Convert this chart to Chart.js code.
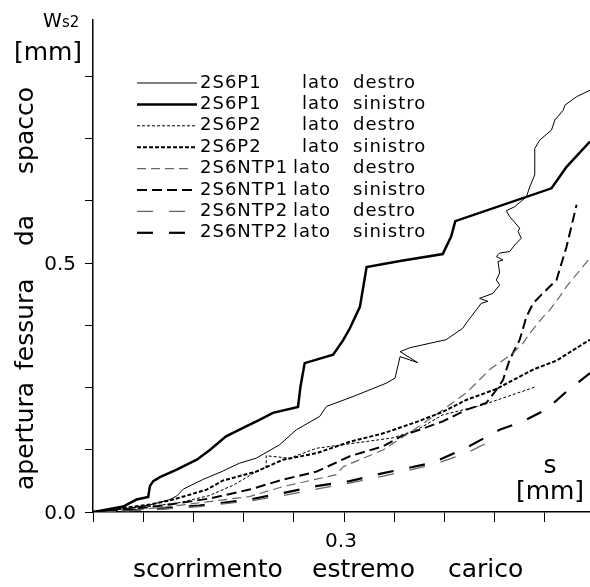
<!DOCTYPE html>
<html lang="it">
<head>
<meta charset="UTF-8">
<title>apertura fessura da spacco</title>
<script src="https://cdn.jsdelivr.net/npm/chart.js@4.4.1/dist/chart.umd.min.js"></script>
<style>
  html, body { margin: 0; padding: 0; background: #fff; }
  #chart { display: block; }
</style>
</head>
<body>
<canvas id="chart" width="590" height="587"></canvas>
<script>
// series names (legend)
var seriesNames = ['2S6P1', '2S6P1', '2S6P2', '2S6P2', '2S6NTP1', '2S6NTP1', '2S6NTP2', '2S6NTP2'];
var seriesSides = ['destro', 'sinistro', 'destro', 'sinistro', 'destro', 'sinistro', 'destro', 'sinistro'];

// s [mm] / ws2 [mm]
var p1Destro = [
  {x:0,y:0},{x:0.020,y:0.003},{x:0.044,y:0.008},{x:0.068,y:0.014},{x:0.092,y:0.025},
  {x:0.100,y:0.032},{x:0.108,y:0.046},{x:0.131,y:0.065},{x:0.155,y:0.082},{x:0.175,y:0.098},
  {x:0.195,y:0.108},{x:0.223,y:0.135},{x:0.243,y:0.165},{x:0.271,y:0.192},{x:0.279,y:0.212},
  {x:0.311,y:0.232},{x:0.351,y:0.259},{x:0.361,y:0.269},{x:0.367,y:0.312},{x:0.388,y:0.300},
  {x:0.367,y:0.322},{x:0.379,y:0.330},{x:0.422,y:0.346},{x:0.442,y:0.369},{x:0.446,y:0.379},
  {x:0.464,y:0.419},{x:0.472,y:0.423},{x:0.462,y:0.429},{x:0.478,y:0.439},{x:0.486,y:0.456},
  {x:0.482,y:0.466},{x:0.486,y:0.480},{x:0.484,y:0.503},{x:0.490,y:0.506},{x:0.482,y:0.513},
  {x:0.486,y:0.520},{x:0.498,y:0.523},{x:0.504,y:0.536},{x:0.512,y:0.550},{x:0.508,y:0.563},
  {x:0.510,y:0.570},{x:0.498,y:0.593},{x:0.494,y:0.605},{x:0.504,y:0.613},{x:0.518,y:0.633},
  {x:0.522,y:0.653},{x:0.528,y:0.677},{x:0.528,y:0.730},{x:0.534,y:0.747},{x:0.548,y:0.767},
  {x:0.552,y:0.787},{x:0.562,y:0.807},{x:0.564,y:0.817},{x:0.578,y:0.834},{x:0.594,y:0.847}
];
var p1Sinistro = [
  {x:0,y:0},{x:0.004,y:0.001},{x:0.020,y:0.006},{x:0.036,y:0.011},{x:0.052,y:0.025},
  {x:0.066,y:0.030},{x:0.068,y:0.052},{x:0.072,y:0.062},{x:0.080,y:0.070},{x:0.100,y:0.085},
  {x:0.124,y:0.105},{x:0.140,y:0.125},{x:0.159,y:0.152},{x:0.183,y:0.172},{x:0.199,y:0.185},
  {x:0.215,y:0.199},{x:0.245,y:0.211},{x:0.248,y:0.252},{x:0.253,y:0.299},{x:0.287,y:0.316},
  {x:0.299,y:0.345},{x:0.307,y:0.369},{x:0.319,y:0.412},{x:0.327,y:0.492},{x:0.367,y:0.504},
  {x:0.418,y:0.518},{x:0.428,y:0.553},{x:0.433,y:0.584},{x:0.548,y:0.650},{x:0.566,y:0.693},
  {x:0.594,y:0.744}
];
var p2Destro = [
  {x:0,y:0},{x:0.032,y:0.005},{x:0.068,y:0.011},{x:0.104,y:0.019},{x:0.139,y:0.033},
  {x:0.169,y:0.055},{x:0.195,y:0.081},{x:0.207,y:0.091},{x:0.207,y:0.113},{x:0.235,y:0.108},
  {x:0.267,y:0.128},{x:0.307,y:0.137},{x:0.359,y:0.149},{x:0.387,y:0.165},{x:0.418,y:0.195},
  {x:0.466,y:0.215},{x:0.530,y:0.252}
];
var p2Sinistro = [
  {x:0,y:0},{x:0.032,y:0.007},{x:0.068,y:0.015},{x:0.096,y:0.025},{x:0.136,y:0.045},
  {x:0.155,y:0.063},{x:0.195,y:0.081},{x:0.227,y:0.105},{x:0.267,y:0.118},{x:0.307,y:0.141},
  {x:0.347,y:0.158},{x:0.387,y:0.181},{x:0.418,y:0.201},{x:0.446,y:0.225},{x:0.482,y:0.247},
  {x:0.526,y:0.286},{x:0.554,y:0.304},{x:0.590,y:0.342},{x:0.594,y:0.346}
];
var ntp1Destro = [
  {x:0,y:0},{x:0.044,y:0.003},{x:0.092,y:0.011},{x:0.139,y:0.021},{x:0.187,y:0.031},
  {x:0.227,y:0.051},{x:0.291,y:0.075},{x:0.299,y:0.091},{x:0.347,y:0.125},{x:0.387,y:0.169},
  {x:0.418,y:0.205},{x:0.446,y:0.239},{x:0.458,y:0.259},{x:0.474,y:0.286},{x:0.502,y:0.319},
  {x:0.514,y:0.339},{x:0.522,y:0.359},{x:0.538,y:0.392},{x:0.546,y:0.406},{x:0.558,y:0.433},
  {x:0.566,y:0.453},{x:0.594,y:0.510}
];
var ntp1Sinistro = [
  {x:0,y:0},{x:0.044,y:0.005},{x:0.092,y:0.015},{x:0.139,y:0.027},{x:0.187,y:0.045},
  {x:0.227,y:0.065},{x:0.267,y:0.081},{x:0.307,y:0.112},{x:0.347,y:0.132},{x:0.367,y:0.151},
  {x:0.390,y:0.165},{x:0.418,y:0.182},{x:0.446,y:0.205},{x:0.470,y:0.219},{x:0.482,y:0.245},
  {x:0.490,y:0.265},{x:0.498,y:0.306},{x:0.510,y:0.346},{x:0.518,y:0.392},{x:0.526,y:0.419},
  {x:0.534,y:0.433},{x:0.554,y:0.466},{x:0.566,y:0.533},{x:0.578,y:0.617}
];
var ntp2Destro = [
  {x:0,y:0},{x:0.068,y:0.004},{x:0.127,y:0.011},{x:0.187,y:0.022},{x:0.227,y:0.033},
  {x:0.267,y:0.046},{x:0.307,y:0.058},{x:0.347,y:0.072},{x:0.406,y:0.095},{x:0.446,y:0.118},
  {x:0.470,y:0.138}
];
var ntp2Sinistro = [
  {x:0,y:0},{x:0.068,y:0.005},{x:0.127,y:0.013},{x:0.187,y:0.025},{x:0.227,y:0.038},
  {x:0.267,y:0.052},{x:0.307,y:0.062},{x:0.347,y:0.078},{x:0.367,y:0.085},{x:0.406,y:0.099},
  {x:0.446,y:0.129},{x:0.486,y:0.165},{x:0.514,y:0.182},{x:0.542,y:0.206},{x:0.566,y:0.242},
  {x:0.594,y:0.279}
];

var xTicks = [0, 0.06, 0.12, 0.18, 0.24, 0.3, 0.36, 0.42, 0.48, 0.54];
var yTicks = [0, 0.125, 0.25, 0.375, 0.5, 0.625, 0.75, 0.875];
var xTickLabels = [[0.3, '0.3']];
var yTickLabels = [[0, '0.0'], [0.5, '0.5']];

var FONT = '"DejaVu Sans", sans-serif';

function ds(data, width, dash, color) {
    return {
        data: data,
        borderColor: color || '#000',
        borderWidth: width,
        borderDash: dash,
        showLine: true,
        pointRadius: 0,
        tension: 0,
        fill: false
    };
}

var datasets = [
    ds(p1Destro, 1, []),
    ds(p1Sinistro, 2.5, []),
    ds(p2Destro, 1, [3, 2]),
    ds(p2Sinistro, 2, [4, 2]),
    ds(ntp1Destro, 1.2, [9, 5], '#666'),
    ds(ntp1Sinistro, 2, [10, 5]),
    ds(ntp2Destro, 1.3, [16, 16], '#666'),
    ds(ntp2Sinistro, 2.2, [16, 16])
];

// legend + axis texts
var decor = {
    id: 'decor',
    afterDraw: function (chart) {
        var c = chart.ctx;
        var xs = chart.scales.x, ys = chart.scales.y;
        c.save();
        c.fillStyle = '#000';
        c.textBaseline = 'alphabetic';

        // tick labels
        c.font = '20px ' + FONT;
        c.textAlign = 'right';
        yTickLabels.forEach(function (t) {
            c.fillText(t[1], 76, ys.getPixelForValue(t[0]) + 7);
        });
        c.textAlign = 'center';
        xTickLabels.forEach(function (t) {
            c.fillText(t[1], xs.getPixelForValue(t[0]) - 3, 547);
        });

        // x title
        c.font = '25px ' + FONT;
        c.textAlign = 'left';
        c.fillText('scorrimento', 133, 577);
        c.fillText('estremo', 312, 577);
        c.fillText('carico', 448, 577);
        c.textAlign = 'center';
        c.fillText('s', 550, 473);
        c.fillText('[mm]', 550, 499);

        // y title
        c.fillText('[mm]', 48, 60);
        c.font = '19px ' + FONT;
        c.textAlign = 'left';
        c.fillText('W', 43, 27);
        c.font = '15px ' + FONT;
        c.fillText('s2', 62, 27);

        c.save();
        c.font = '25px ' + FONT;
        c.translate(33, 0);
        c.rotate(-Math.PI / 2);
        c.textAlign = 'left';
        c.fillText('apertura', -490, 0);
        c.fillText('fessura', -370, 0);
        c.fillText('da', -246, 0);
        c.fillText('spacco', -174, 0);
        c.restore();

        // legend
        c.font = '18px ' + FONT;
        c.textBaseline = 'middle';
        c.textAlign = 'left';
        chart.data.datasets.forEach(function (d, i) {
            var y = 83 + i * 21.4;
            var ntp = seriesNames[i].indexOf('NTP') >= 0;
            c.save();
            c.strokeStyle = d.borderColor;
            c.lineWidth = d.borderWidth;
            c.setLineDash(d.borderDash);
            c.beginPath();
            c.moveTo(137, y);
            c.lineTo(ntp ? 192 : 197, y);
            c.stroke();
            c.restore();
            c.letterSpacing = '1px';
            c.fillText(seriesNames[i], 200, y);
            c.fillText('lato', ntp ? 293 : 302, y);
            c.fillText(seriesSides[i], 353, y);
            c.letterSpacing = '0px';
        });
        c.restore();
    }
};

var chart = new Chart(document.getElementById('chart').getContext('2d'), {
    type: 'scatter',
    data: { datasets: datasets },
    options: {
        responsive: false,
        animation: false,
        layout: { padding: { left: 85, right: 0, top: 20, bottom: 65 } },
        plugins: { legend: { display: false }, tooltip: { enabled: false } },
        scales: {
            x: {
                type: 'linear',
                min: 0,
                max: 0.594,
                afterBuildTicks: function (s) { s.ticks = xTicks.map(function (v) { return { value: v }; }); },
                ticks: { display: false },
                grid: { drawOnChartArea: false, drawTicks: true, tickLength: 10, color: '#000', lineWidth: 1 },
                border: { display: true, color: '#000', width: 1.5 }
            },
            y: {
                type: 'linear',
                min: 0,
                max: 0.988,
                afterBuildTicks: function (s) { s.ticks = yTicks.map(function (v) { return { value: v }; }); },
                ticks: { display: false },
                grid: { drawOnChartArea: false, drawTicks: true, tickLength: 8, color: '#000', lineWidth: 1 },
                border: { display: true, color: '#000', width: 1.5 }
            }
        }
    },
    plugins: [decor]
});
</script>
</body>
</html>
